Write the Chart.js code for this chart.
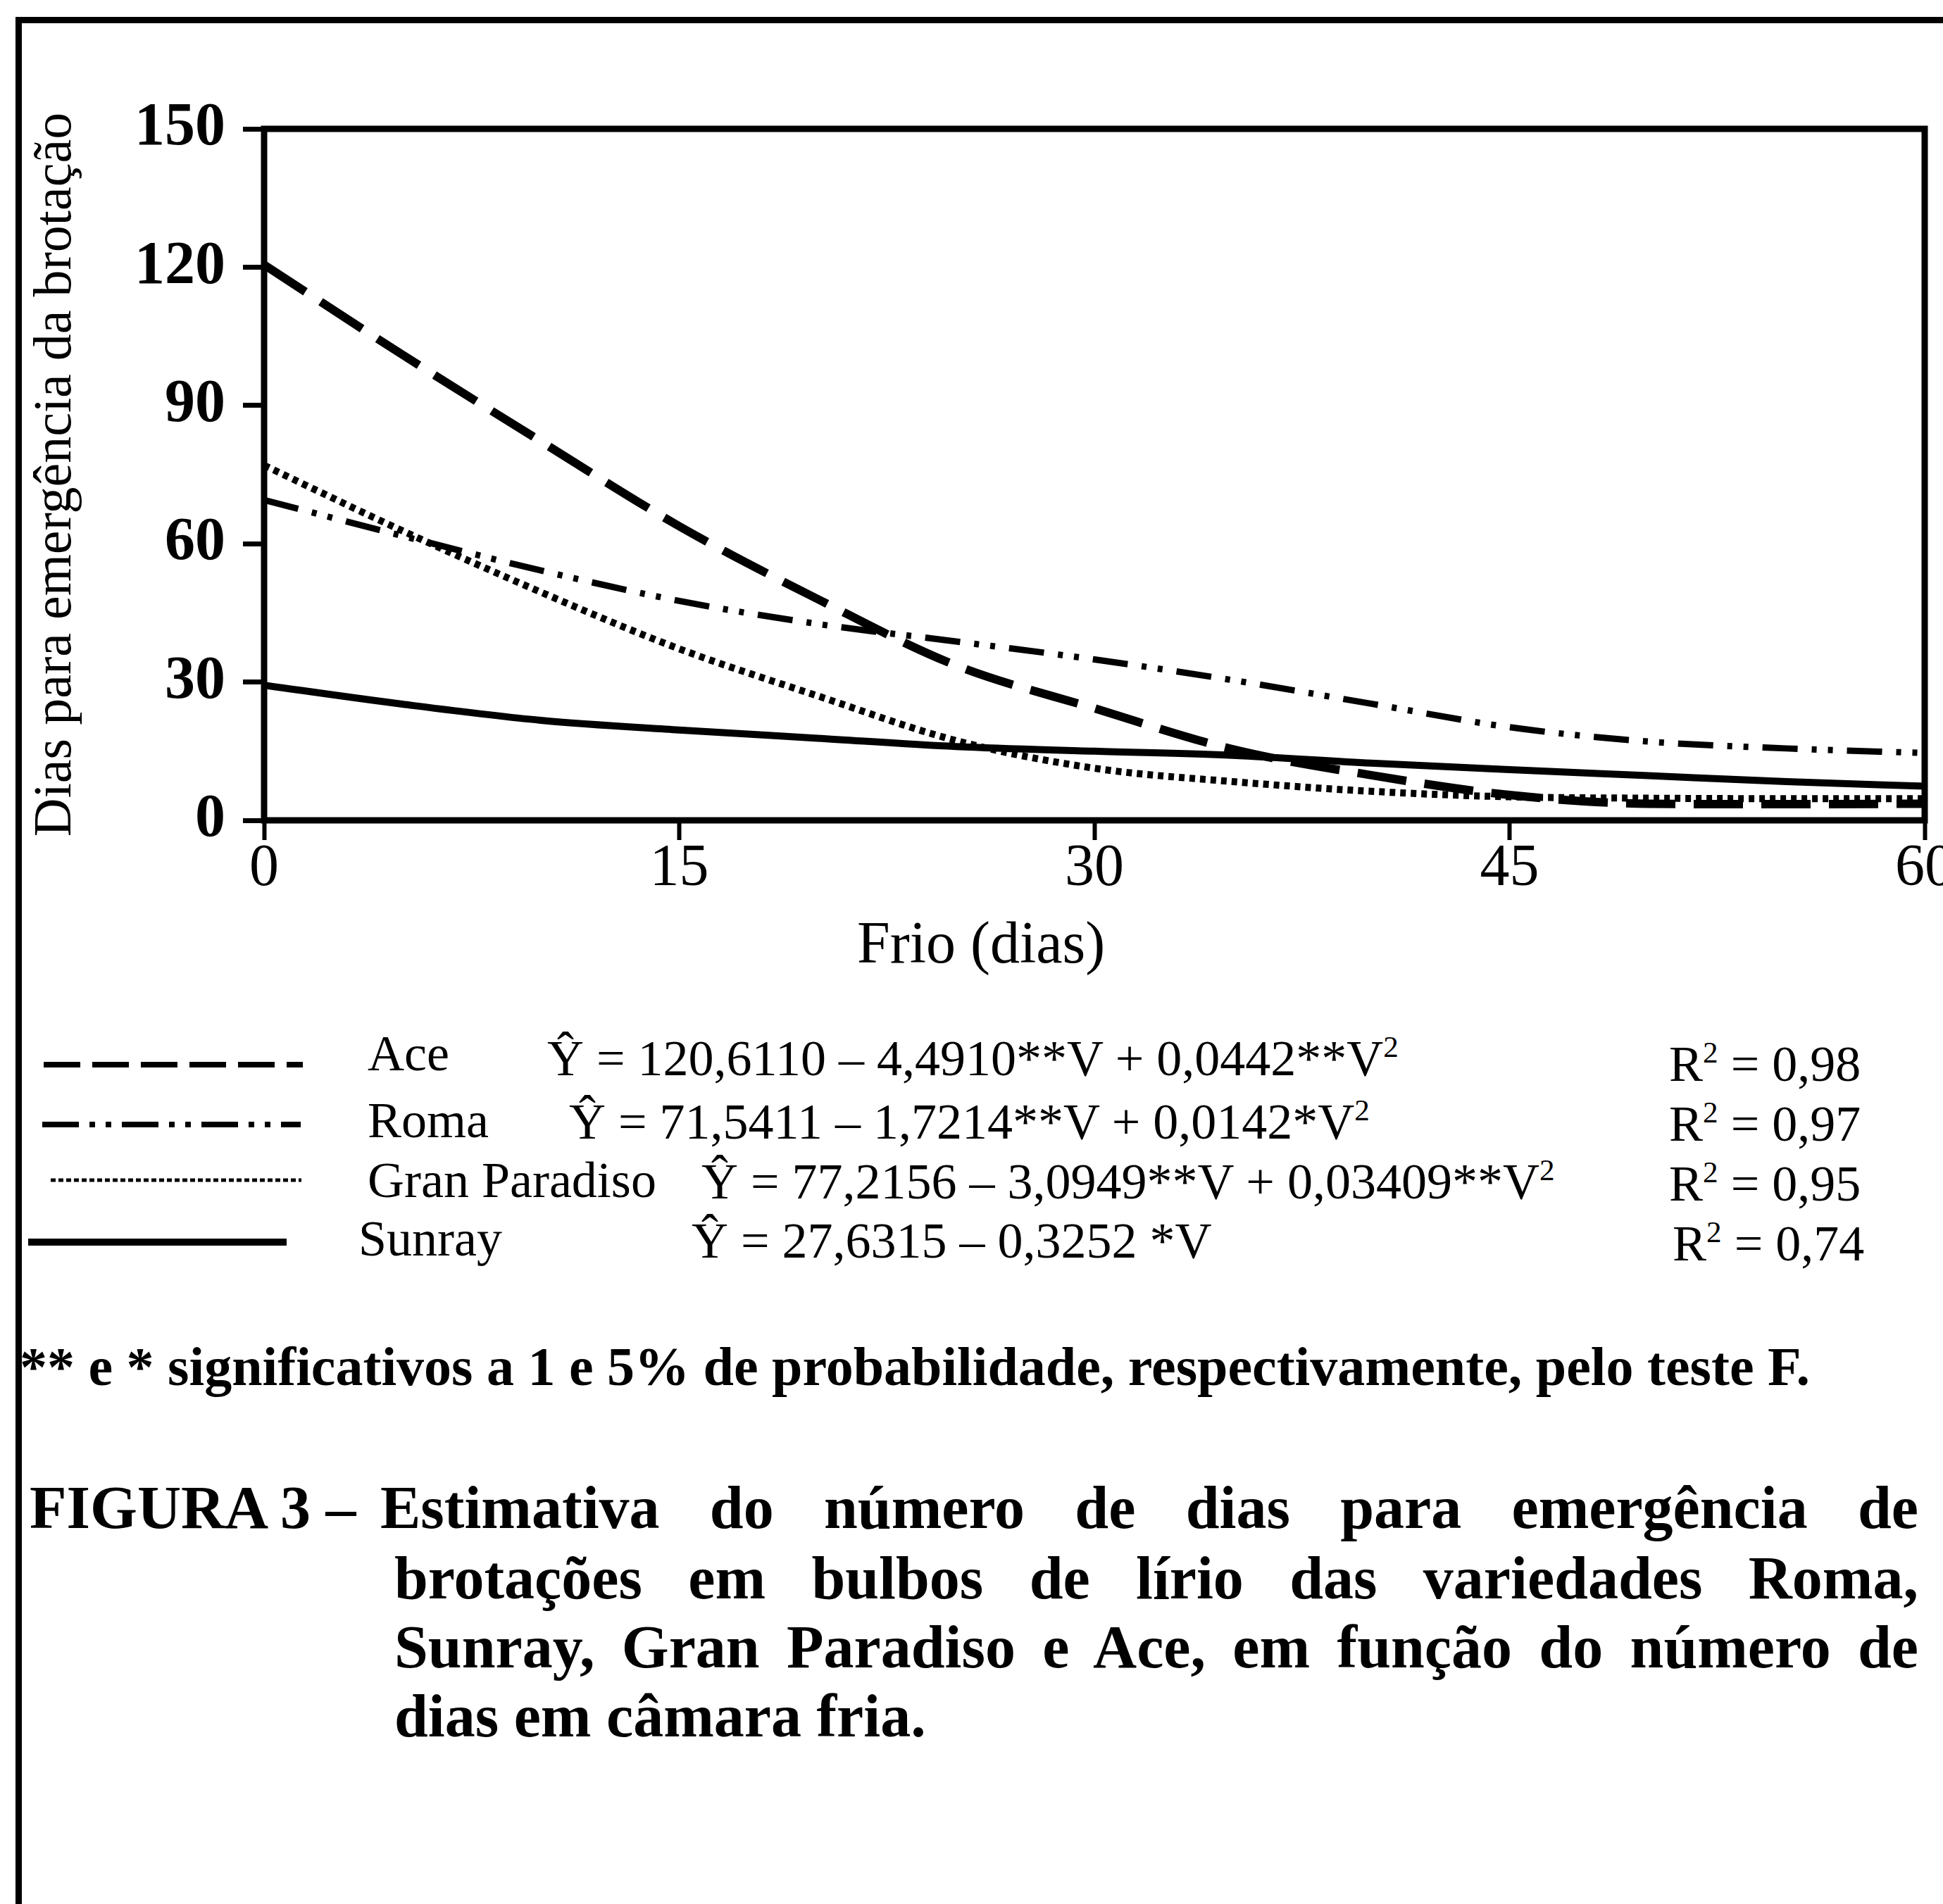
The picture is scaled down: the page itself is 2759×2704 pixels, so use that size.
<!DOCTYPE html>
<html>
<head>
<meta charset="utf-8">
<script src="https://cdn.jsdelivr.net/npm/chart.js@4.4.1/dist/chart.umd.min.js"></script>
<style>
html, body { margin: 0; padding: 0; background: #fff; }
body { width: 2759px; height: 2704px; overflow: hidden; position: relative;
       font-family: "Liberation Serif", "Times New Roman", serif; color: #000; }
#frame { position: absolute; left: 22px; top: 24px; width: 2800px; height: 2800px;
         border-top: 9px solid #000; border-left: 9px solid #000; }
#chart { position: absolute; left: 0; top: 0; }
.t { position: absolute; white-space: nowrap; line-height: 1; }
.leg { font-size: 72px; }
.bold { font-weight: bold; }
sup { font-size: 0.6em; vertical-align: 0; position: relative; top: -0.6em; line-height: 0; }
.cap { position: absolute; left: 540px; width: 2184px; font-size: 86px; font-weight: bold;
       line-height: 1; white-space: nowrap; }
.just { text-align: justify; text-align-last: justify; white-space: normal; }
</style>
</head>
<body>
<div id="frame"></div>
<canvas id="chart" width="2800" height="1420"></canvas>

<div class="t" style="left:1217px; top:1297px; font-size:84px;">Frio (dias)</div>

<svg style="position:absolute; left:0; top:1460px;" width="460" height="340">
  <line x1="62" y1="52" x2="430" y2="52" stroke="#000" stroke-width="8" stroke-dasharray="52 17"/>
  <line x1="60" y1="137" x2="427" y2="137" stroke="#000" stroke-width="8" stroke-dasharray="52 15 8 15 8 15"/>
  <line x1="72" y1="216" x2="428" y2="216" stroke="#000" stroke-width="5" stroke-dasharray="7 4"/>
  <line x1="40" y1="304" x2="407" y2="304" stroke="#000" stroke-width="10"/>
</svg>

<div class="t leg" style="left:522px; top:1460px;">Ace</div>
<div class="t leg" style="left:777px; top:1467px;">Ŷ = 120,6110 – 4,4910**V + 0,0442**V<sup>2</sup></div>
<div class="t leg" style="left:2370px; top:1475px;">R<sup>2</sup> = 0,98</div>

<div class="t leg" style="left:522px; top:1555px;">Roma</div>
<div class="t leg" style="left:808px; top:1557px;">Ŷ = 71,5411 – 1,7214**V + 0,0142*V<sup>2</sup></div>
<div class="t leg" style="left:2370px; top:1560px;">R<sup>2</sup> = 0,97</div>

<div class="t leg" style="left:522px; top:1640px;">Gran Paradiso</div>
<div class="t leg" style="left:996px; top:1642px;">Ŷ = 77,2156 – 3,0949**V + 0,03409**V<sup>2</sup></div>
<div class="t leg" style="left:2370px; top:1645px;">R<sup>2</sup> = 0,95</div>

<div class="t leg" style="left:509px; top:1723px;">Sunray</div>
<div class="t leg" style="left:982px; top:1726px;">Ŷ = 27,6315 – 0,3252 *V</div>
<div class="t leg" style="left:2375px; top:1730px;">R<sup>2</sup> = 0,74</div>

<div class="t bold" style="left:28px; top:1902px; font-size:78px;">** e * significativos a 1 e 5% de probabilidade, respectivamente, pelo teste F.</div>

<div class="t bold" style="left:42px; top:2098px; font-size:86px;">FIGURA 3 –</div>
<div class="cap just" style="top:2098px;">Estimativa do número de dias para emergência de</div>
<div class="cap just" style="top:2198px; left:560px; width:2164px;">brotações em bulbos de lírio das variedades Roma,</div>
<div class="cap just" style="top:2296px; left:560px; width:2164px;">Sunray, Gran Paradiso e Ace, em função do número de</div>
<div class="cap" style="top:2394px; left:560px;">dias em câmara fria.</div>

<script>
// dias em câmara fria (eixo x)
const frioDias = [0, 5, 10, 15, 20, 25, 30, 35, 40, 45, 50, 55, 60];
// dias para emergência
const ace = [120.5, 101, 82.2, 63.8, 48, 33.6, 24.3, 15.4, 9.8, 5.5, 3.6, 3.5, 3.6];
const roma = [69.5, 61.7, 54.2, 47.6, 42.6, 38.8, 34.9, 30.4, 25.3, 20.2, 17.1, 15.6, 14.6];
const granParadiso = [77, 62.8, 49.5, 37.2, 27, 17.3, 11.3, 8.4, 6.3, 5.1, 4.8, 4.7, 4.7];
const sunray = [29.3, 25.2, 21.7, 19.6, 17.8, 16.0, 15.0, 14.1, 12.4, 11.0, 9.7, 8.4, 7.4];
const xTicks = [0, 15, 30, 45, 60];
const yTicks = [0, 30, 60, 90, 120, 150];

function pts(values) {
    return frioDias.map((d, i) => ({ x: d, y: values[i] }));
}

Chart.defaults.font.family = '"Liberation Serif", "Times New Roman", serif';
Chart.defaults.color = '#000';

// caixa preta em volta da área do gráfico
const plotFrame = {
    id: 'plotFrame',
    afterDatasetsDraw(chart) {
        const { ctx, chartArea: a } = chart;
        ctx.save();
        ctx.lineWidth = 9;
        ctx.strokeStyle = '#000';
        ctx.strokeRect(a.left, a.top, a.right - a.left, a.bottom - a.top);
        ctx.restore();
    }
};

const lineBase = { pointRadius: 0, fill: false, borderColor: '#000',
                   cubicInterpolationMode: 'monotone', borderCapStyle: 'butt' };

const ctx = document.getElementById('chart').getContext('2d');
new Chart(ctx, {
    type: 'line',
    data: {
        datasets: [
            Object.assign({ label: 'Ace', data: pts(ace), borderWidth: 12, borderDash: [70, 26] }, lineBase),
            Object.assign({ label: 'Roma', data: pts(roma), borderWidth: 9, borderDash: [50, 20, 7, 16, 7, 20] }, lineBase),
            Object.assign({ label: 'Gran Paradiso', data: pts(granParadiso), borderWidth: 10, borderDash: [8, 7] }, lineBase),
            Object.assign({ label: 'Sunray', data: pts(sunray), borderWidth: 10 }, lineBase)
        ]
    },
    options: {
        responsive: false,
        animation: false,
        layout: { padding: { top: 183, right: 67, left: 0, bottom: 0 } },
        plugins: { legend: { display: false }, tooltip: { enabled: false } },
        scales: {
            x: {
                type: 'linear', min: 0, max: 60,
                afterFit: s => { s.height = 255; },
                afterBuildTicks: s => { s.ticks = xTicks.map(v => ({ value: v })); },
                border: { display: false },
                grid: { drawOnChartArea: false, drawTicks: true, tickLength: 28, tickWidth: 6, tickColor: '#000' },
                ticks: { padding: 8, maxRotation: 0, font: { size: 84, lineHeight: 0.8 } }
            },
            y: {
                type: 'linear', min: 0, max: 150,
                afterFit: s => { s.width = 375; },
                afterBuildTicks: s => { s.ticks = yTicks.map(v => ({ value: v })); },
                border: { display: false },
                grid: { drawOnChartArea: false, drawTicks: true, tickLength: 30, tickWidth: 7, tickColor: '#000' },
                ticks: { padding: 25, font: { size: 86, weight: 'bold' } },
                title: { display: true, text: 'Dias para emergência da brotação',
                         font: { size: 76 }, padding: { top: 34, bottom: 0 } }
            }
        }
    },
    plugins: [plotFrame]
});
</script>
</body>
</html>
